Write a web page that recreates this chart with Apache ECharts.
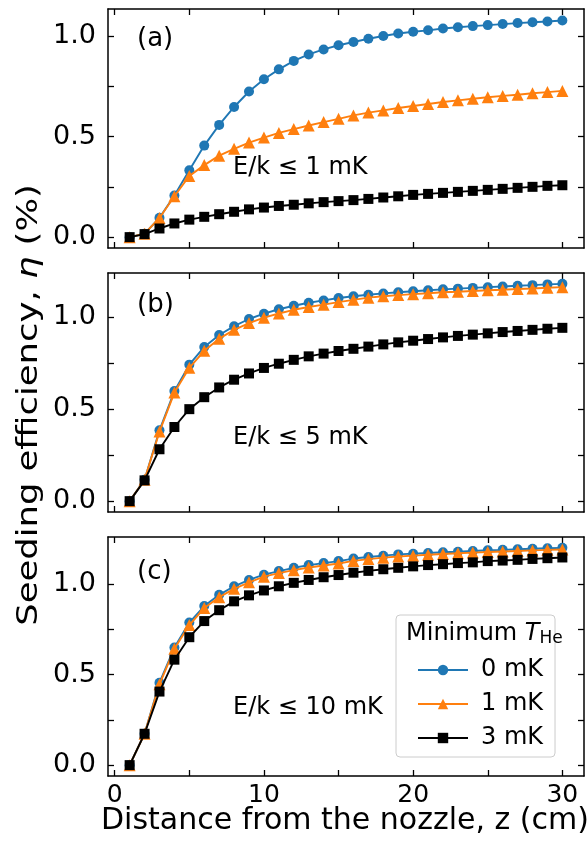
<!DOCTYPE html>
<html><head><meta charset="utf-8">
<script src="https://cdn.jsdelivr.net/npm/echarts@6/dist/echarts.min.js"></script>
<style>html,body{margin:0;padding:0;background:#fff}#c{width:588px;height:842px}</style>
</head><body><div id="c"></div>
<script>
const z = [1,2,3,4,5,6,7,8,9,10,11,12,13,14,15,16,17,18,19,20,21,22,23,24,25,26,27,28,29,30];
const seriesNames = ['0 mK','1 mK','3 mK'];
const panelLabels = ['(a)','(b)','(c)'];
const panelNotes = ['E/k \u2264 1 mK','E/k \u2264 5 mK','E/k \u2264 10 mK'];
const xTicks = [0,5,10,15,20,25,30];
const xTickLabels = [0,10,20,30];
const yTicks = [0,0.25,0.5,0.75,1.0];
const yTickLabels = [0.0,0.5,1.0];

// Panel (a) E/k <= 1 mK
const a0 = [0,0.017,0.096,0.207,0.332,0.455,0.558,0.647,0.724,0.785,0.834,0.876,0.908,0.933,0.954,0.970,0.986,1.000,1.012,1.021,1.028,1.037,1.043,1.049,1.054,1.059,1.064,1.068,1.072,1.077];
const a1 = [0,0.017,0.095,0.203,0.304,0.358,0.405,0.439,0.470,0.495,0.518,0.537,0.555,0.572,0.588,0.605,0.619,0.630,0.642,0.652,0.662,0.672,0.680,0.688,0.695,0.702,0.708,0.715,0.721,0.727];
const a3 = [0,0.015,0.043,0.068,0.087,0.101,0.114,0.126,0.138,0.147,0.155,0.161,0.168,0.174,0.179,0.184,0.190,0.197,0.203,0.210,0.215,0.220,0.225,0.230,0.235,0.240,0.245,0.250,0.255,0.258];
// Panel (b) E/k <= 5 mK
const b0 = [0,0.116,0.385,0.598,0.742,0.838,0.903,0.951,0.990,1.019,1.043,1.062,1.078,1.091,1.104,1.114,1.122,1.129,1.135,1.141,1.146,1.151,1.155,1.159,1.163,1.167,1.171,1.174,1.178,1.181];
const b1 = [0,0.116,0.378,0.590,0.725,0.817,0.883,0.931,0.968,0.997,1.020,1.040,1.055,1.068,1.082,1.094,1.106,1.114,1.120,1.125,1.130,1.135,1.138,1.142,1.146,1.149,1.153,1.156,1.160,1.163];
const b3 = [0,0.113,0.282,0.403,0.500,0.565,0.618,0.660,0.694,0.724,0.747,0.768,0.787,0.802,0.816,0.828,0.840,0.852,0.863,0.872,0.881,0.890,0.898,0.905,0.912,0.919,0.925,0.931,0.937,0.942];
// Panel (c) E/k <= 10 mK
const c0 = [0,0.173,0.455,0.649,0.787,0.878,0.940,0.987,1.022,1.051,1.071,1.089,1.104,1.115,1.126,1.140,1.149,1.156,1.163,1.167,1.171,1.175,1.178,1.182,1.186,1.188,1.191,1.194,1.197,1.199];
const c1 = [0,0.173,0.446,0.642,0.773,0.867,0.927,0.973,1.009,1.040,1.060,1.076,1.091,1.102,1.113,1.127,1.137,1.145,1.151,1.156,1.161,1.165,1.169,1.173,1.176,1.179,1.182,1.185,1.188,1.190];
const c3 = [0,0.173,0.406,0.582,0.706,0.795,0.855,0.904,0.937,0.964,0.987,1.006,1.022,1.037,1.049,1.062,1.072,1.081,1.089,1.097,1.104,1.109,1.115,1.119,1.126,1.129,1.133,1.138,1.142,1.146];

const panels = [[a0,a1,a3],[b0,b1,b3],[c0,c1,c3]];
const yRanges = [[-0.054,1.134],[-0.059,1.240],[-0.060,1.259]];
const xRange = [-0.45,31.45];

const FONT = 'DejaVu Sans';
const colors = ['#1f77b4','#ff7f0e','#000000'];
const symbols = ['circle','triangle','rect'];
const symSizes = [10,12,10];
const gridTops = [9,273,537];
const gridH = 239;

const chart = echarts.init(document.getElementById('c'), null, {renderer:'canvas'});
const grids=[], xAxes=[], yAxes=[], series=[];
const lineStyle = {onZero:false,lineStyle:{color:'#000',width:1.5}};
function tick(vals){return {inside:true,length:6,customValues:vals,lineStyle:{color:'#000',width:1.3}};}
panels.forEach((p,i)=>{
  grids.push({left:108,right:4,top:gridTops[i],height:gridH,containLabel:false});
  const xBase = {gridIndex:i,type:'value',min:xRange[0],max:xRange[1],
    axisLine:lineStyle,axisTick:tick(xTicks),splitLine:{show:false}};
  xAxes.push(Object.assign({},xBase,{position:'bottom',
    axisLabel:{show:i===2,customValues:xTickLabels,color:'#000',fontFamily:FONT,fontSize:25,margin:7,
      formatter:v=>String(Math.round(v))}}));
  xAxes.push(Object.assign({},xBase,{position:'top',axisLabel:{show:false}}));
  const yBase = {gridIndex:i,type:'value',min:yRanges[i][0],max:yRanges[i][1],
    axisLine:lineStyle,axisTick:tick(yTicks),splitLine:{show:false}};
  yAxes.push(Object.assign({},yBase,{position:'left',
    axisLabel:{customValues:yTickLabels,color:'#000',fontFamily:FONT,fontSize:27,margin:12,
      formatter:v=>v.toFixed(1)}}));
  yAxes.push(Object.assign({},yBase,{position:'right',axisLabel:{show:false}}));
  p.forEach((vals,k)=>{
    series.push({type:'line',name:seriesNames[k],xAxisIndex:2*i,yAxisIndex:2*i,
      data:z.map((zz,j)=>[zz,vals[j]]),symbol:symbols[k],symbolSize:symSizes[k],showSymbol:true,
      color:colors[k],lineStyle:{color:colors[k],width:1.9},itemStyle:{color:colors[k],borderWidth:0},
      animation:false,z:2+k});
  });
});

const graphics = [];
const noteY = [170,440,710];
const labY = [42,308,575];
panels.forEach((p,i)=>{
  graphics.push({type:'text',left:137,top:labY[i]-16,style:{text:panelLabels[i],font:`26px "${FONT}"`,fill:'#000'}});
  graphics.push({type:'text',left:233,top:noteY[i]-14,style:{text:panelNotes[i],font:`24px "${FONT}"`,fill:'#000'}});
});
graphics.push({type:'text',x:345,y:836,style:{text:'Distance from the nozzle, z (cm)',font:`30px "${FONT}"`,fill:'#000',textAlign:'center',textVerticalAlign:'bottom'}});
graphics.push({type:'text',x:29,y:405,rotation:Math.PI/2,scaleX:1.22,style:{
  rich:{n:{fontFamily:FONT,fontSize:29,fill:'#000'},t:{fontFamily:FONT,fontSize:29,fontStyle:'italic',fill:'#000'}},
  text:'{n|Seeding efficiency, }{t|\u03b7}{n| (%)}',align:'center',verticalAlign:'middle'}});
graphics.push({type:'text',left:406,top:622,z:100,style:{
  rich:{n:{fontFamily:FONT,fontSize:24,fill:'#000'},t:{fontFamily:FONT,fontSize:24,fontStyle:'italic',fill:'#000'},s:{fontFamily:FONT,fontSize:17,fill:'#000',padding:[10,0,0,0]}},
  text:'{n|Minimum }{t|T}{s|He}'}});

chart.setOption({
  animation:false,
  grid:grids,xAxis:xAxes,yAxis:yAxes,series:series,
  legend:{data:seriesNames,orient:'vertical',left:396,top:615,
    padding:[43,12,7,21],itemGap:10,itemWidth:50,itemHeight:13,
    backgroundColor:'rgba(255,255,255,0.85)',borderColor:'#cccccc',borderWidth:1,borderRadius:4,
    textStyle:{fontFamily:FONT,fontSize:24,color:'#000',padding:[0,0,0,8]}},
  graphic:graphics
});
</script></body></html>
